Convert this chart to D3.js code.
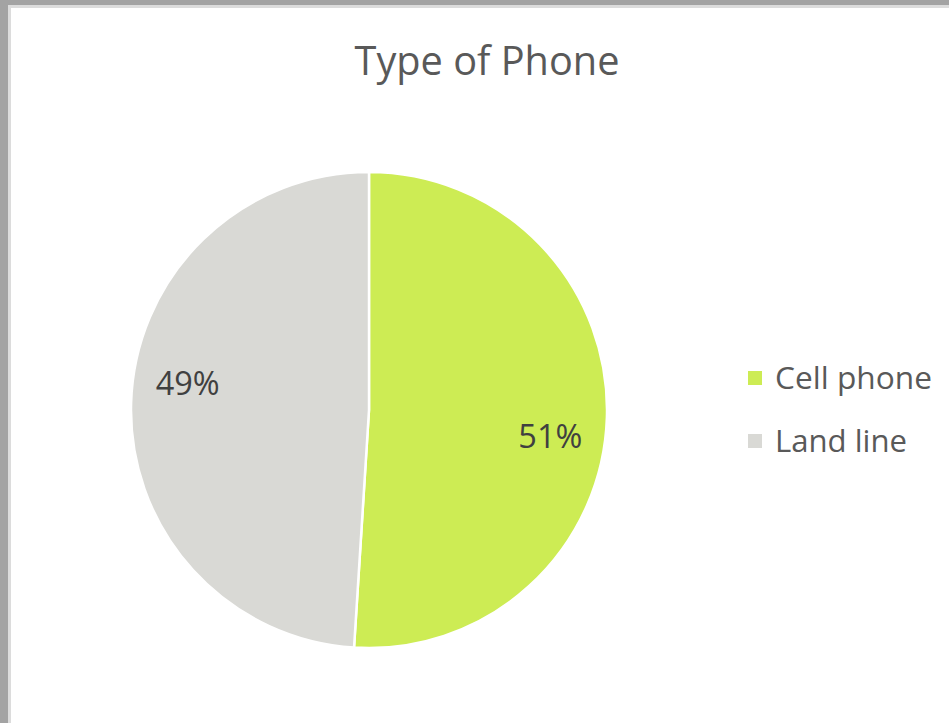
<!DOCTYPE html>
<html>
<head>
<meta charset="utf-8">
<script src="https://cdn.jsdelivr.net/npm/d3@7"></script>
<style>
html,body{margin:0;padding:0;background:#fff;}
svg{display:block;}
</style>
</head>
<body>
<svg id="chart" width="949" height="723"></svg>
<script>
const title = "Type of Phone";
const categories = ["Cell phone", "Land line"];
const values = [51, 49];
const colors = ["#cdec54", "#d9d9d5"];

const svg = d3.select("#chart");
const W = 949, H = 723;

// frame
svg.append("rect").attr("x",0).attr("y",0).attr("width",W).attr("height",H).attr("fill","#a3a3a3");
svg.append("rect").attr("x",8).attr("y",5).attr("width",W-8).attr("height",H-5).attr("fill","#dcdcdc");
svg.append("rect").attr("x",11).attr("y",8).attr("width",W-11).attr("height",H-8).attr("fill","#ffffff");

const font = "'Open Sans', 'Liberation Sans', sans-serif";

function fitWidth(sel, target){
  const w = sel.node().getComputedTextLength();
  const fs = parseFloat(sel.attr("font-size"));
  sel.attr("font-size", fs * target / w);
}

const t = svg.append("text").attr("x",487).attr("y",75)
  .attr("text-anchor","middle").attr("font-family",font).attr("font-size",34)
  .attr("fill","#595959").text(title);
fitWidth(t, 265);

const cx = 369, cy = 410, r = 238;
const pie = d3.pie().sort(null).value(d => d)(values);
const arc = d3.arc().innerRadius(0).outerRadius(r);
const g = svg.append("g").attr("transform",`translate(${cx},${cy})`);
g.selectAll("path").data(pie).join("path")
  .attr("d",arc).attr("fill",(d,i)=>colors[i])
  .attr("stroke","#fff").attr("stroke-width",2.5).attr("stroke-linejoin","round");

const total = d3.sum(values);
const rot = 6.5 * Math.PI / 180;
const labelArc = d3.arc().innerRadius(r*0.77).outerRadius(r*0.77);
g.selectAll("text.lbl").data(pie).join("text").attr("class","lbl")
  .attr("transform",d=>`translate(${labelArc.centroid({startAngle:d.startAngle+rot,endAngle:d.endAngle+rot})})`)
  .attr("text-anchor","middle").attr("dy","0.35em")
  .attr("font-family",font).attr("font-size",24).attr("fill","#404040")
  .text(d => Math.round(d.value/total*100) + "%")
  .each(function(){ fitWidth(d3.select(this), 64); });

const leg = svg.append("g");
categories.forEach((c,i)=>{
  const y = 378 + i*63;
  leg.append("rect").attr("x",748).attr("y",y-7).attr("width",14).attr("height",14).attr("fill",colors[i]);
  const tx = leg.append("text").attr("x",775).attr("y",y).attr("dy","0.35em")
    .attr("font-family",font).attr("font-size",26).attr("fill","#595959").text(c);
  fitWidth(tx, i===0 ? 157 : 132);
});
</script>
</body>
</html>
